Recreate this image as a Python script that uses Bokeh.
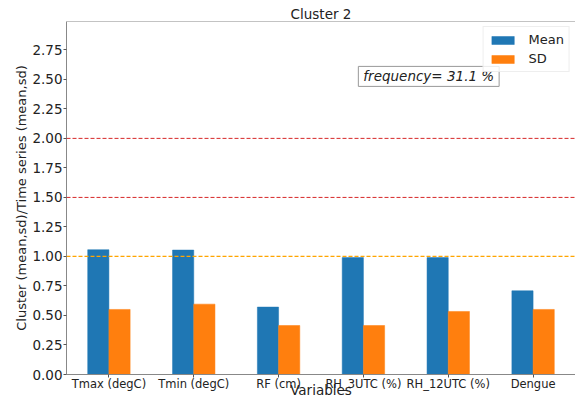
import numpy as np
from bokeh.plotting import figure
from bokeh.models import (ColumnDataSource, FixedTicker, Span, Label, Legend,
                          LegendItem, PrintfTickFormatter, Range1d)
from bokeh.embed import file_html
from bokeh.resources import INLINE

categories = ["Tmax (degC)", "Tmin (degC)", "RF (cm)", "RH_3UTC (%)", "RH_12UTC (%)", "Dengue"]
mean_vals = [1.057, 1.054, 0.571, 0.990, 0.990, 0.709]
sd_vals = [0.551, 0.596, 0.415, 0.415, 0.534, 0.551]
y_ticks = [0.0, 0.25, 0.5, 0.75, 1.0, 1.25, 1.5, 1.75, 2.0, 2.25, 2.5, 2.75]
red_lines = [2.0, 1.5]
orange_lines = [1.0]
title_text = "Cluster 2"
freq_text = "frequency= 31.1 %"
xlabel = "Variables"
ylabel = "Cluster (mean,sd)/Time series (mean,sd)"

FONT = "DejaVu Sans"
BLUE = "#1f77b4"
ORANGE = "#ff7f0e"
TXT = "#222222"

idx = np.arange(len(categories))
bw = 0.25
src = ColumnDataSource(dict(
    xm=idx - bw / 2, xs=idx + bw / 2, mean=mean_vals, sd=sd_vals))

p = figure(width=575, height=400, output_backend="svg", toolbar_location=None,
           x_range=Range1d(-0.5, len(categories) - 0.5), y_range=Range1d(0, 2.99),
           min_border_left=66, min_border_right=0, min_border_top=21,
           min_border_bottom=26, title=title_text)
p.outline_line_color = None
p.xgrid.visible = False
p.ygrid.visible = False
p.background_fill_color = "white"
p.border_fill_color = "white"

p.title.align = "center"
p.title.text_font = FONT
p.title.text_font_size = "13.5px"
p.title.text_font_style = "normal"
p.title.text_color = TXT
p.title.standoff = 0

rm = p.vbar(x="xm", top="mean", width=bw, source=src, fill_color=BLUE,
            line_color=BLUE, line_width=0.5)
rs = p.vbar(x="xs", top="sd", width=bw, source=src, fill_color=ORANGE,
            line_color=ORANGE, line_width=0.5)

for v in red_lines:
    p.add_layout(Span(location=v, dimension="width", line_color="#d62728",
                      line_dash="4 2", line_width=1))
for v in orange_lines:
    p.add_layout(Span(location=v, dimension="width", line_color="orange",
                      line_dash="4 2", line_width=1.2))
# top spine
p.add_layout(Span(location=2.99, dimension="width", line_color="#888888", line_width=1))

# axes
p.yaxis.ticker = FixedTicker(ticks=y_ticks)
p.yaxis.formatter = PrintfTickFormatter(format="%.2f")
p.xaxis.ticker = FixedTicker(ticks=list(idx))
p.xaxis.major_label_overrides = {int(i): c for i, c in zip(idx, categories)}
for ax in (p.xaxis, p.yaxis):
    ax.axis_line_color = "#888888"
    ax.major_tick_line_color = "#555555"
    ax.major_tick_out = 3
    ax.major_tick_in = 0
    ax.minor_tick_line_color = None
    ax.major_label_text_font = FONT
    ax.major_label_text_color = TXT
    ax.major_label_standoff = 1
    ax.axis_label_text_font = FONT
    ax.axis_label_text_font_style = "normal"
    ax.axis_label_text_color = TXT
p.yaxis.major_label_text_font_size = "13.5px"
p.xaxis.major_label_text_font_size = "11.5px"
p.xaxis.major_label_standoff = -1
p.xaxis.axis_label = xlabel
p.xaxis.axis_label_text_font_size = "13.5px"
p.xaxis.axis_label_standoff = -12
p.yaxis.axis_label = ylabel
p.yaxis.axis_label_text_font_size = "13px"
p.yaxis.axis_label_standoff = 0

# frequency box
p.add_layout(Label(x=3.77, y=2.525, text=freq_text, text_font=FONT,
                   text_font_size="13.5px", text_font_style="italic",
                   text_color=TXT, text_align="center", text_baseline="middle",
                   background_fill_color="white", border_line_color="#999999",
                   border_line_width=1, padding=(5, 2)))

legend = Legend(items=[LegendItem(label="Mean", renderers=[rm]),
                       LegendItem(label="SD", renderers=[rs])],
                location="top_right", margin=5, padding=5, spacing=4,
                glyph_width=28, glyph_height=10, label_height=15,
                label_standoff=12, label_text_font=FONT,
                label_text_font_size="13px", label_text_color=TXT,
                border_line_color="#dddddd", border_line_width=1,
                background_fill_color="white", background_fill_alpha=0.8)
p.add_layout(legend)

open("out.html", "w").write(file_html(p, INLINE))
